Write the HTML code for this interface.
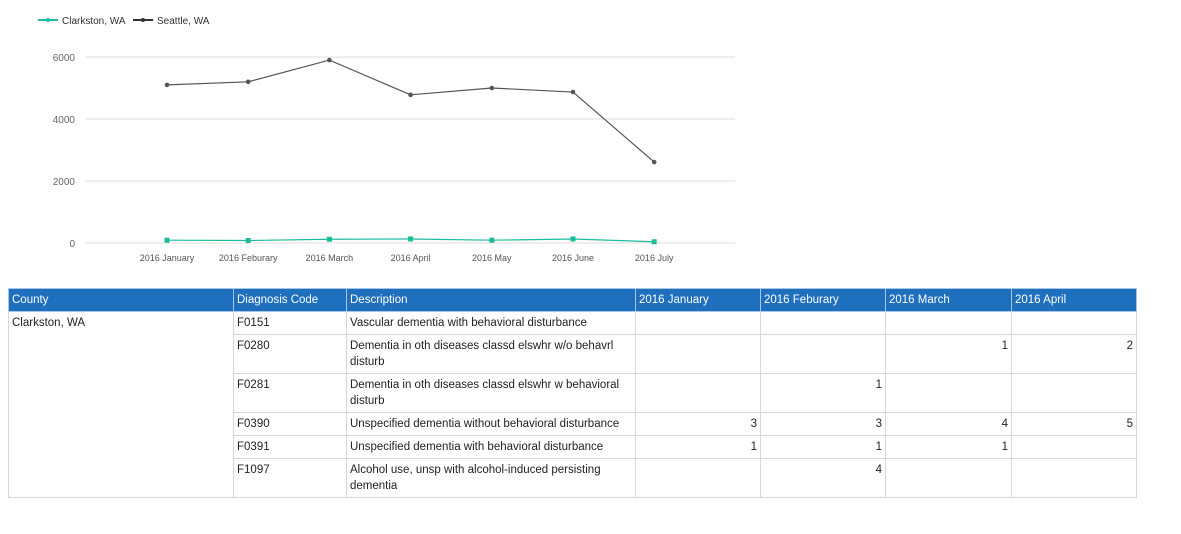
<!DOCTYPE html>
<html><head><meta charset="utf-8"><style>
body{margin:0;width:1181px;height:534px;background:#fff;font-family:"Liberation Sans",sans-serif;overflow:hidden;position:relative}
svg{position:absolute;left:0;top:0}
table{position:absolute;left:8px;top:288px;border-collapse:collapse;font-size:11.5px;color:#222}
td,th{border:1px solid #d6d6d6;padding:3px 3px 3px;vertical-align:top;line-height:16px}
th{background:#1f6fbf;color:#fff;font-weight:normal;text-align:left;border-color:#aac6e6;height:15px;vertical-align:middle}
td.n{text-align:right}
td.c{border-top:none;border-bottom:none}
</style></head><body>
<svg width="1181" height="280">
<g id="legend">
<line x1="38" y1="20" x2="58" y2="20" stroke="#1abc9c" stroke-width="2"/><circle cx="48" cy="20" r="2" fill="#1abc9c"/>
<text x="62" y="24" font-size="10" fill="#333">Clarkston, WA</text>
<line x1="133" y1="20" x2="153" y2="20" stroke="#333" stroke-width="2"/><circle cx="143" cy="20" r="2" fill="#333"/>
<text x="157" y="24" font-size="10" fill="#333">Seattle, WA</text>
</g>
<g id="grid"></g><g id="marks"></g>
</svg>
<table>
<tr><th style="width:218px">County</th><th style="width:106px">Diagnosis Code</th><th style="width:282px">Description</th><th style="width:118px">2016 January</th><th style="width:118px">2016 Feburary</th><th style="width:119px">2016 March</th><th style="width:118px">2016 April</th></tr>
<tr><td class="c" style="border-top:1px solid #d6d6d6">Clarkston, WA</td><td>F0151</td><td>Vascular dementia with behavioral disturbance</td><td></td><td></td><td></td><td></td></tr>
<tr><td class="c"></td><td>F0280</td><td>Dementia in oth diseases classd elswhr w/o behavrl disturb</td><td></td><td></td><td class="n">1</td><td class="n">2</td></tr>
<tr><td class="c"></td><td>F0281</td><td>Dementia in oth diseases classd elswhr w behavioral disturb</td><td></td><td class="n">1</td><td></td><td></td></tr>
<tr><td class="c"></td><td>F0390</td><td>Unspecified dementia without behavioral disturbance</td><td class="n">3</td><td class="n">3</td><td class="n">4</td><td class="n">5</td></tr>
<tr><td class="c"></td><td>F0391</td><td>Unspecified dementia with behavioral disturbance</td><td class="n">1</td><td class="n">1</td><td class="n">1</td><td></td></tr>
<tr><td class="c" style="border-bottom:1px solid #d6d6d6"></td><td>F1097</td><td>Alcohol use, unsp with alcohol-induced persisting dementia</td><td></td><td class="n">4</td><td></td><td></td></tr>
</table>
<script>
const categories=["2016 January","2016 Feburary","2016 March","2016 April","2016 May","2016 June","2016 July"];
const seattle=[5100,5200,5900,4780,5000,4870,2610];
const clarkston=[90,80,120,130,90,130,40];
const yTicks=[0,2000,4000,6000];
const NS="http://www.w3.org/2000/svg";
const x=i=>167+i*81.2, y=v=>243-v*0.031;
const grid=document.getElementById('grid'), marks=document.getElementById('marks');
function mk(t,a,p){const e=document.createElementNS(NS,t);for(const k in a)e.setAttribute(k,a[k]);p.appendChild(e);return e;}
yTicks.forEach(v=>{
 const l=mk('line',{x1:85,x2:735,y1:y(v),y2:y(v),stroke:'#ddd'},grid);
 
 
 const t=mk('text',{x:75,y:y(v)+4,'font-size':10,fill:'#666','text-anchor':'end'},grid);t.textContent=v;
 
 
});
categories.forEach((c,i)=>{
 const t=mk('text',{x:x(i),y:261,'font-size':9,fill:'#555','text-anchor':'middle'},grid);t.textContent=c;
 
 
});
function series(vals,col,name,sq){
 const p=mk('polyline',{points:vals.map((v,i)=>x(i)+','+y(v)).join(' '),fill:'none',stroke:col,'stroke-width':1.2},marks);
 
 
 vals.forEach((v,i)=>{
  const m=sq?mk('rect',{x:x(i)-2.5,y:y(v)-2.5,width:5,height:5,fill:col},marks):mk('circle',{cx:x(i),cy:y(v),r:2.3,fill:col},marks);
  
  
 });
}
series(seattle,'#555','seattle',false);
series(clarkston,'#1abc9c','clarkston',true);
</script>
</body></html>
